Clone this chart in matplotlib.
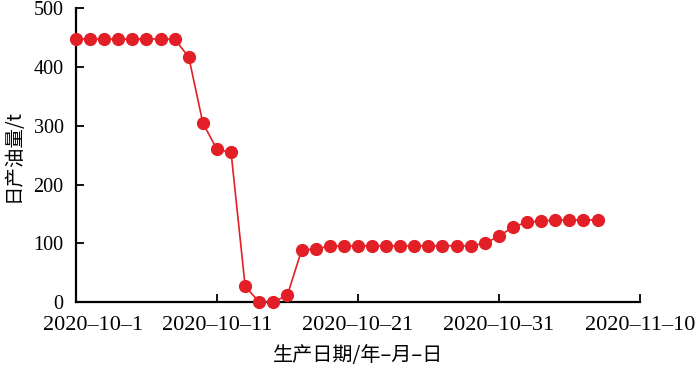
import matplotlib
matplotlib.use("Agg")
import matplotlib.pyplot as plt
import matplotlib.transforms as mtransforms
import pandas as pd

plt.rcParams['font.family'] = ['Liberation Serif', 'Noto Sans CJK SC']

start = '2020-10-01'
oil = [448, 448, 448, 448, 448, 448, 448, 448,
       417, 305, 260, 255, 27, 0, 0, 12,
       88, 91, 95,
       96, 96, 96, 96, 96, 96, 96, 96, 96, 96,
       100, 112, 128, 136, 138, 140, 140, 140, 140]
dates = pd.date_range(start, periods=len(oil), freq='D')

tick_dates = pd.to_datetime(['2020-10-01', '2020-10-11', '2020-10-21', '2020-10-31', '2020-11-10'])
tick_labels = ['2020\u201310\u20131', '2020\u201310\u201311', '2020\u201310\u201321',
               '2020\u201310\u201331', '2020\u201311\u201310']

fig = plt.figure(figsize=(7, 3.68), dpi=100)
ax = fig.add_axes([0.1086, 0.179, 0.8054, 0.798])

red = '#e21f26'
ax.plot(dates, oil, color=red, lw=1.2, marker='o', markersize=8.5,
        markerfacecolor=red, markeredgecolor=red, clip_on=False, zorder=3)

ax.set_xlim(tick_dates[0], tick_dates[-1])
ax.set_ylim(0, 500)
ax.set_xticks(tick_dates)
ax.set_xticklabels(tick_labels)
ax.set_yticks([0, 100, 200, 300, 400, 500])

for s in ['top', 'right']:
    ax.spines[s].set_visible(False)
for s in ['left', 'bottom']:
    ax.spines[s].set_linewidth(1.6)

ax.tick_params(direction='in', length=6, width=1.3)
ax.tick_params(axis='x', pad=10, labelsize=16)
ax.tick_params(axis='y', pad=9, labelsize=14.5)

# first date label sits a bit right of its tick, as in the source figure
lbl = ax.get_xticklabels()[0]
lbl.set_transform(lbl.get_transform() + mtransforms.ScaledTranslation(12 / 72, 0, fig.dpi_scale_trans))

cjk = ['Noto Sans CJK SC', 'Liberation Serif']
ax.set_xlabel('生产日期/年\u2013月\u2013日', fontsize=14.5, family=cjk, labelpad=7)
ax.set_ylabel('日产油量/t', fontsize=14, family=cjk, labelpad=7)

fig.savefig('out.png', dpi=100)
